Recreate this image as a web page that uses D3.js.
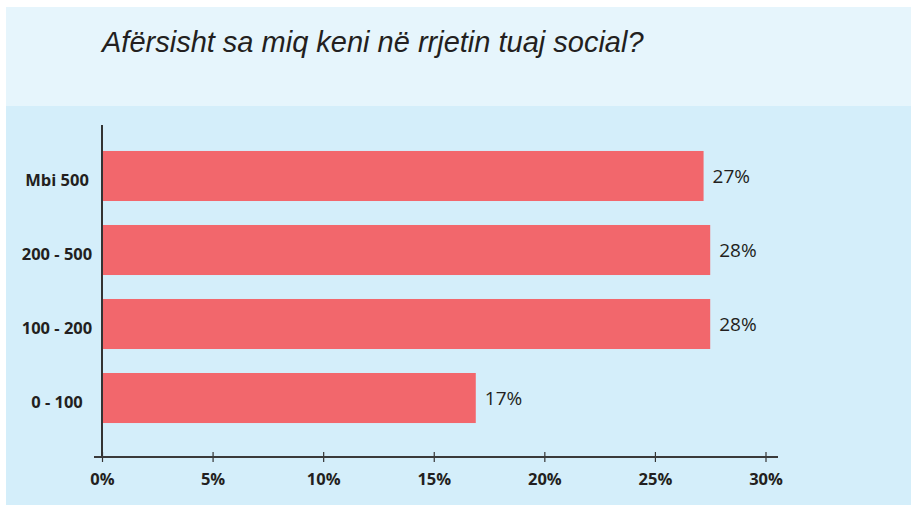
<!DOCTYPE html>
<html>
<head>
<meta charset="utf-8">
<script src="https://cdn.jsdelivr.net/npm/d3@7"></script>
<style>
  body { margin: 0; background: #fff; }
  svg { display: block; }
</style>
</head>
<body>
<div id="container"></div>
<script>
// data
const categories = ["Mbi 500", "200 - 500", "100 - 200", "0 - 100"];
const values = [27.2, 27.5, 27.5, 16.9];
const valueLabels = ["27%", "28%", "28%", "17%"];
const tickValues = [0, 5, 10, 15, 20, 25, 30];
const title = "Afërsisht sa miq keni në rrjetin tuaj social?";

let w = 911;
let h = 505;
let viz = d3.select("#container").append("svg")
    .attr("width", w)
    .attr("height", h);

// background bands
viz.append("rect")
    .attr("x", 6).attr("y", 7)
    .attr("width", w - 6).attr("height", 99)
    .attr("fill", "#e6f5fc");
viz.append("rect")
    .attr("x", 6).attr("y", 106)
    .attr("width", w - 6).attr("height", h - 106)
    .attr("fill", "#d4eefa");

viz.append("text")
    .text(title)
    .attr("x", 102)
    .attr("y", 52)
    .attr("font-family", "Liberation Sans, Arial, sans-serif")
    .attr("font-style", "italic")
    .attr("font-size", 29)
    .attr("fill", "#231f20");

let x = d3.scaleLinear()
    .domain([0, 30])
    .range([102, 765.5]);

let y = d3.scaleBand()
    .domain(categories)
    .range([125, 449])
    .paddingInner(0.324)
    .paddingOuter(0.351);

let axisY = 457;

// bars
viz.append("g").selectAll("rect")
    .data(categories)
    .join("rect")
    .attr("x", x(0))
    .attr("y", d => y(d))
    .attr("width", (d, i) => x(values[i]) - x(0))
    .attr("height", y.bandwidth())
    .attr("fill", "#f2676c");

// value labels
viz.append("g").selectAll("text")
    .data(categories)
    .join("text")
    .text((d, i) => valueLabels[i])
    .attr("x", (d, i) => x(values[i]) + 9)
    .attr("y", d => y(d) + y.bandwidth() / 2 + 7)
    .attr("font-family", "Open Sans, sans-serif")
    .attr("font-size", 19)
    .attr("fill", "#231f20");

// category labels
viz.append("g").selectAll("text")
    .data(categories)
    .join("text")
    .text(d => d)
    .attr("x", 57)
    .attr("y", d => y(d) + y.bandwidth() / 2 + 10)
    .attr("text-anchor", "middle")
    .attr("font-family", "Open Sans, sans-serif")
    .attr("font-weight", "bold")
    .attr("font-size", 16.5)
    .attr("fill", "#231f20");

// vertical axis line
viz.append("line")
    .attr("x1", x(0)).attr("x2", x(0))
    .attr("y1", 125).attr("y2", axisY)
    .attr("stroke", "#333")
    .attr("stroke-width", 2);

// x axis
let xAxis = d3.axisBottom(x)
    .tickValues(tickValues)
    .tickFormat(d => d + "%")
    .tickSize(5);

let gx = viz.append("g")
    .attr("transform", "translate(0," + axisY + ")")
    .call(xAxis);
gx.select(".domain").remove();
gx.selectAll(".tick line")
    .attr("y1", -5)
    .attr("y2", 5)
    .attr("stroke", "#333")
    .attr("stroke-width", 1.2);
gx.selectAll(".tick text")
    .attr("y", 28)
    .attr("dy", null)
    .attr("font-family", "Open Sans, sans-serif")
    .attr("font-weight", "bold")
    .attr("font-size", 16.5)
    .attr("fill", "#231f20");

viz.append("line")
    .attr("x1", 94).attr("x2", 778)
    .attr("y1", axisY).attr("y2", axisY)
    .attr("stroke", "#3a3a3a")
    .attr("stroke-width", 2);
</script>
</body>
</html>
